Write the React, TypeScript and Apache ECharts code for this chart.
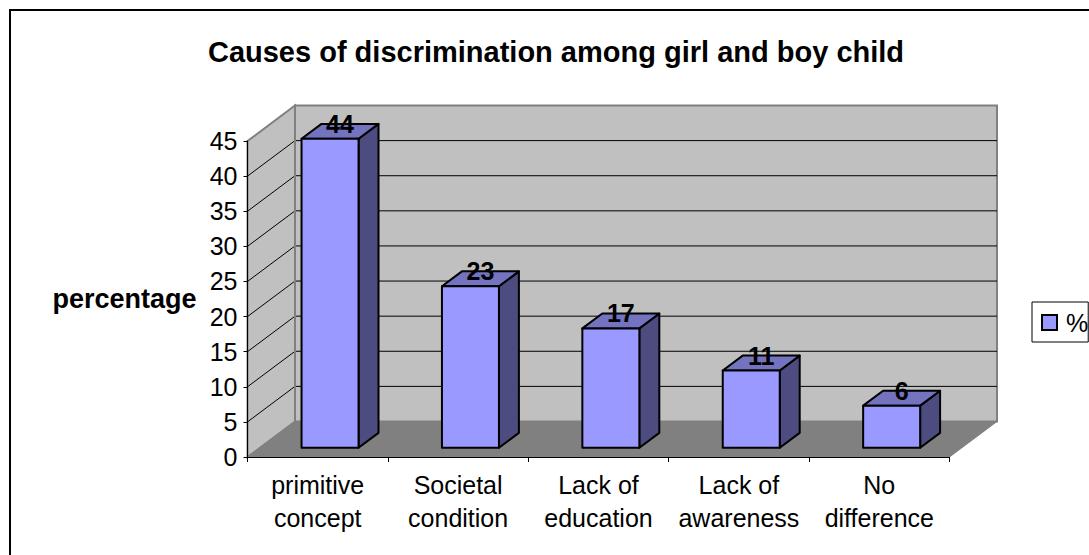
import React, { useEffect, useRef } from "react";
import * as echarts from "echarts";

const titleText = "Causes of discrimination among girl and boy child";
const categories = ["primitive\nconcept", "Societal\ncondition", "Lack of\neducation", "Lack of\nawareness", "No\ndifference"];
const values = [44, 23, 17, 11, 6];
const yTicks = [0, 5, 10, 15, 20, 25, 30, 35, 40, 45];
const seriesName = "%";
const yName = "percentage";

const FONT = "'Liberation Sans', Arial, sans-serif";
const DX = 47.5;
const DY = -35.5;
const GRID_COL = "#808080";
const WALL = "#C0C0C0";
const FACE = "#9999FF";
const TOP = "#7373BF";
const SIDE = "#4C4C80";

function wallsItem(params: any, api: any) {
  const cs = params.coordSys;
  const x0 = cs.x;
  const x1 = cs.x + cs.width;
  const yb = api.coord([0, 0])[1];
  const yt = api.coord([0, 45])[1];
  const children: any[] = [
    { type: "polygon", shape: { points: [[x0 + DX, yt + DY], [x1 + DX, yt + DY], [x1 + DX, yb + DY], [x0 + DX, yb + DY]] }, style: { fill: WALL, stroke: GRID_COL, lineWidth: 2 } },
    { type: "polygon", shape: { points: [[x0, yt], [x0 + DX, yt + DY], [x0 + DX, yb + DY], [x0, yb]] }, style: { fill: WALL, stroke: GRID_COL, lineWidth: 2 } },
  ];
  yTicks.slice(1, -1).forEach((t) => {
    const y = api.coord([0, t])[1];
    children.push({ type: "polyline", shape: { points: [[x0, y], [x0 + DX, y + DY], [x1 + DX, y + DY]] }, style: { fill: "none", stroke: "#000", lineWidth: 1 } });
  });
  children.push({ type: "polygon", shape: { points: [[x0, yb], [x0 + DX, yb + DY], [x1 + DX, yb + DY], [x1, yb]] }, style: { fill: GRID_COL, stroke: GRID_COL, lineWidth: 1 } });
  children.push({ type: "line", shape: { x1: x0 + DX, y1: yt + DY, x2: x0 + DX, y2: yb + DY }, style: { stroke: GRID_COL, lineWidth: 2 } });
  return { type: "group", children };
}

function barItem(_params: any, api: any) {
  const c = api.value(0);
  const v = api.value(1);
  const band = api.size([1, 0])[0];
  const hw = band * 0.203;
  const d0 = 0.26;
  const d1 = 0.68;
  const top = api.coord([c, v]);
  const bot = api.coord([c, 0]);
  const P = (dx: number, y: number, d: number) => [top[0] + dx + d * DX, y + d * DY];
  const ln = { stroke: "#000", lineWidth: 2, lineJoin: "round" };
  return {
    type: "group",
    children: [
      { type: "polygon", shape: { points: [P(hw, top[1], d0), P(hw, top[1], d1), P(hw, bot[1], d1), P(hw, bot[1], d0)] }, style: { fill: SIDE, ...ln } },
      { type: "polygon", shape: { points: [P(-hw, top[1], d0), P(-hw, top[1], d1), P(hw, top[1], d1), P(hw, top[1], d0)] }, style: { fill: TOP, ...ln } },
      { type: "polygon", shape: { points: [P(-hw, top[1], d0), P(hw, top[1], d0), P(hw, bot[1], d0), P(-hw, bot[1], d0)] }, style: { fill: FACE, ...ln } },
      {
        type: "text",
        style: {
          text: String(v),
          x: top[0] + 0.47 * DX,
          y: top[1] + 0.47 * DY - 7.5,
          align: "center",
          verticalAlign: "middle",
          fill: "#000",
          font: `bold 25px ${FONT}`,
        },
      },
    ],
  };
}

export default function App() {
  const ref = useRef<HTMLDivElement>(null);
  useEffect(() => {
    const chart = echarts.init(ref.current!, undefined, { renderer: "svg" });
    chart.setOption({
      animation: false,
      backgroundColor: "#fff",
      title: {
        text: titleText,
        left: 551,
        top: 32,
        textAlign: "center",
        textStyle: { fontFamily: FONT, fontWeight: "bold", fontSize: 29, color: "#000" },
      },
      legend: {
        data: [seriesName],
        left: 1032,
        top: 302,
        orient: "vertical",
        padding: [8, 0, 7, 9],
        borderColor: "#000",
        borderWidth: 1,
        backgroundColor: "#fff",
        itemWidth: 15,
        itemHeight: 15,
        itemGap: 0,
        icon: "rect",
        selectedMode: false,
        textStyle: { fontFamily: FONT, fontSize: 25, color: "#000", padding: [0, 0, 0, 4] },
      },
      grid: { left: 247.5, right: 139.5, top: 141, bottom: 98, containLabel: false, outerBoundsMode: "none" },
      xAxis: {
        type: "category",
        data: categories,
        z: 10,
        axisLine: { lineStyle: { color: "#000", width: 1 } },
        axisTick: { show: true, length: 5, alignWithLabel: false, lineStyle: { color: "#000" } },
        axisLabel: { fontFamily: FONT, fontSize: 25, color: "#000", lineHeight: 33, margin: 11, interval: 0 },
      },
      yAxis: {
        type: "value",
        min: 0,
        max: 45,
        interval: 5,
        z: 10,
        name: yName,
        nameLocation: "middle",
        nameRotate: 0,
        nameGap: 51,
        nameTextStyle: { fontFamily: FONT, fontWeight: "bold", fontSize: 27, color: "#000" },
        axisLine: { show: true, lineStyle: { color: "#000", width: 1 } },
        axisTick: { show: true, length: 4, lineStyle: { color: "#000" } },
        axisLabel: { fontFamily: FONT, fontSize: 25, color: "#000", margin: 10 },
        splitLine: { show: false },
      },
      graphic: [
        { type: "rect", z: 100, shape: { x: 10, y: 10, width: 1200, height: 700 }, style: { fill: "none", stroke: "#000", lineWidth: 2 } },
      ],
      series: [
        { type: "custom", name: "walls", silent: true, z: 1, clip: false, data: [[0, 0]], encode: { x: 0, y: 1 }, renderItem: wallsItem },
        {
          type: "custom",
          name: seriesName,
          z: 2,
          clip: false,
          silent: true,
          itemStyle: { color: FACE, borderColor: "#000", borderWidth: 2 },
          data: values.map((v, i) => [i, v]),
          encode: { x: 0, y: 1 },
          renderItem: barItem,
        },
      ],
    });
    return () => chart.dispose();
  }, []);
  return <div ref={ref} style={{ position: "absolute", left: 0, top: 0, width: 1089, height: 555 }} />;
}
